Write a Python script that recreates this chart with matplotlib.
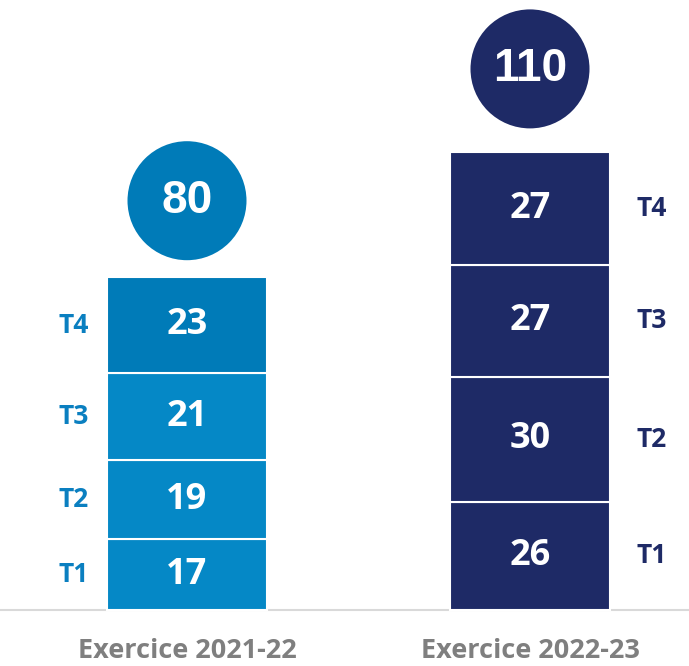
import numpy as np
import matplotlib
matplotlib.use("Agg")
import matplotlib.pyplot as plt
from matplotlib.patches import Ellipse

# Data.
periods = ["Exercice 2021-22", "Exercice 2022-23"]
quarters = ["T1", "T2", "T3", "T4"]
values_2122 = [17, 19, 21, 23]
values_2223 = [26, 30, 27, 27]
totals = [80, 110]

# Styles.
light_blue = "#0588C6"
dark_blue = "#007BB8"
navy = "#1E2A66"
grey = "#7F7F7F"
seg_colors = [[light_blue, light_blue, light_blue, dark_blue],
              [navy, navy, navy, navy]]
circle_colors = [dark_blue, navy]
label_colors = ["#0A7FC0", navy]
text_font = "Open Sans"

# Pixel layout helpers (figure is 689 x 666 px).
px_x = 343.0     # px per category unit
px_y = 4.16      # px per value unit
bar_width = 160 / px_x

fig = plt.figure(figsize=(6.89, 6.66), dpi=100)
ax = fig.add_axes([0, 0, 1, 1])
ax.set_xlim(-187 / px_x, (689 - 187) / px_x)
ax.set_ylim(-56 / px_y, 610 / px_y)
ax.axis("off")

series = [values_2122, values_2223]
x = np.arange(len(periods))

# Baseline.
ax.axhline(0, color="#D9D9D9", linewidth=1.5, zorder=1)

for i, vals in enumerate(series):
    bottoms = np.concatenate([[0], np.cumsum(vals)[:-1]])
    ax.bar(np.full(len(vals), x[i]), vals, bottom=bottoms, width=bar_width,
        color=seg_colors[i], edgecolor="white", linewidth=1.5, zorder=2)
    for v, b in zip(vals, bottoms):
        ax.text(x[i], b + v / 2, str(v), ha="center", va="center",
            color="white", fontsize=26, fontweight="bold", family=text_font,
            zorder=3)

    # Quarter labels.
    side = -1 if i == 0 else 1
    lx = x[i] + side * (113 if i == 0 else 122) / px_x
    for q, v, b in zip(quarters, vals, bottoms):
        ax.text(lx, b + v / 2, q, ha="center", va="center",
            color=label_colors[i], fontsize=19, fontweight="bold",
            family=text_font)

    # Total circle.
    gap = [17, 24][i]
    cy = totals[i] + (gap + 59.5) / px_y
    ax.add_patch(Ellipse((x[i], cy), 119 / px_x, 119 / px_y,
        facecolor=circle_colors[i], edgecolor="none", zorder=2))
    ax.text(x[i], cy, str(totals[i]), ha="center", va="center",
        color="white", fontsize=33, fontweight="bold",
        family="Liberation Sans", zorder=3)

    # Period label.
    ax.text(x[i], -48 / px_y, periods[i], ha="center", va="baseline",
        color=grey, fontsize=19.5, fontweight="bold", family=text_font)

fig.savefig("out.png", dpi=100)
